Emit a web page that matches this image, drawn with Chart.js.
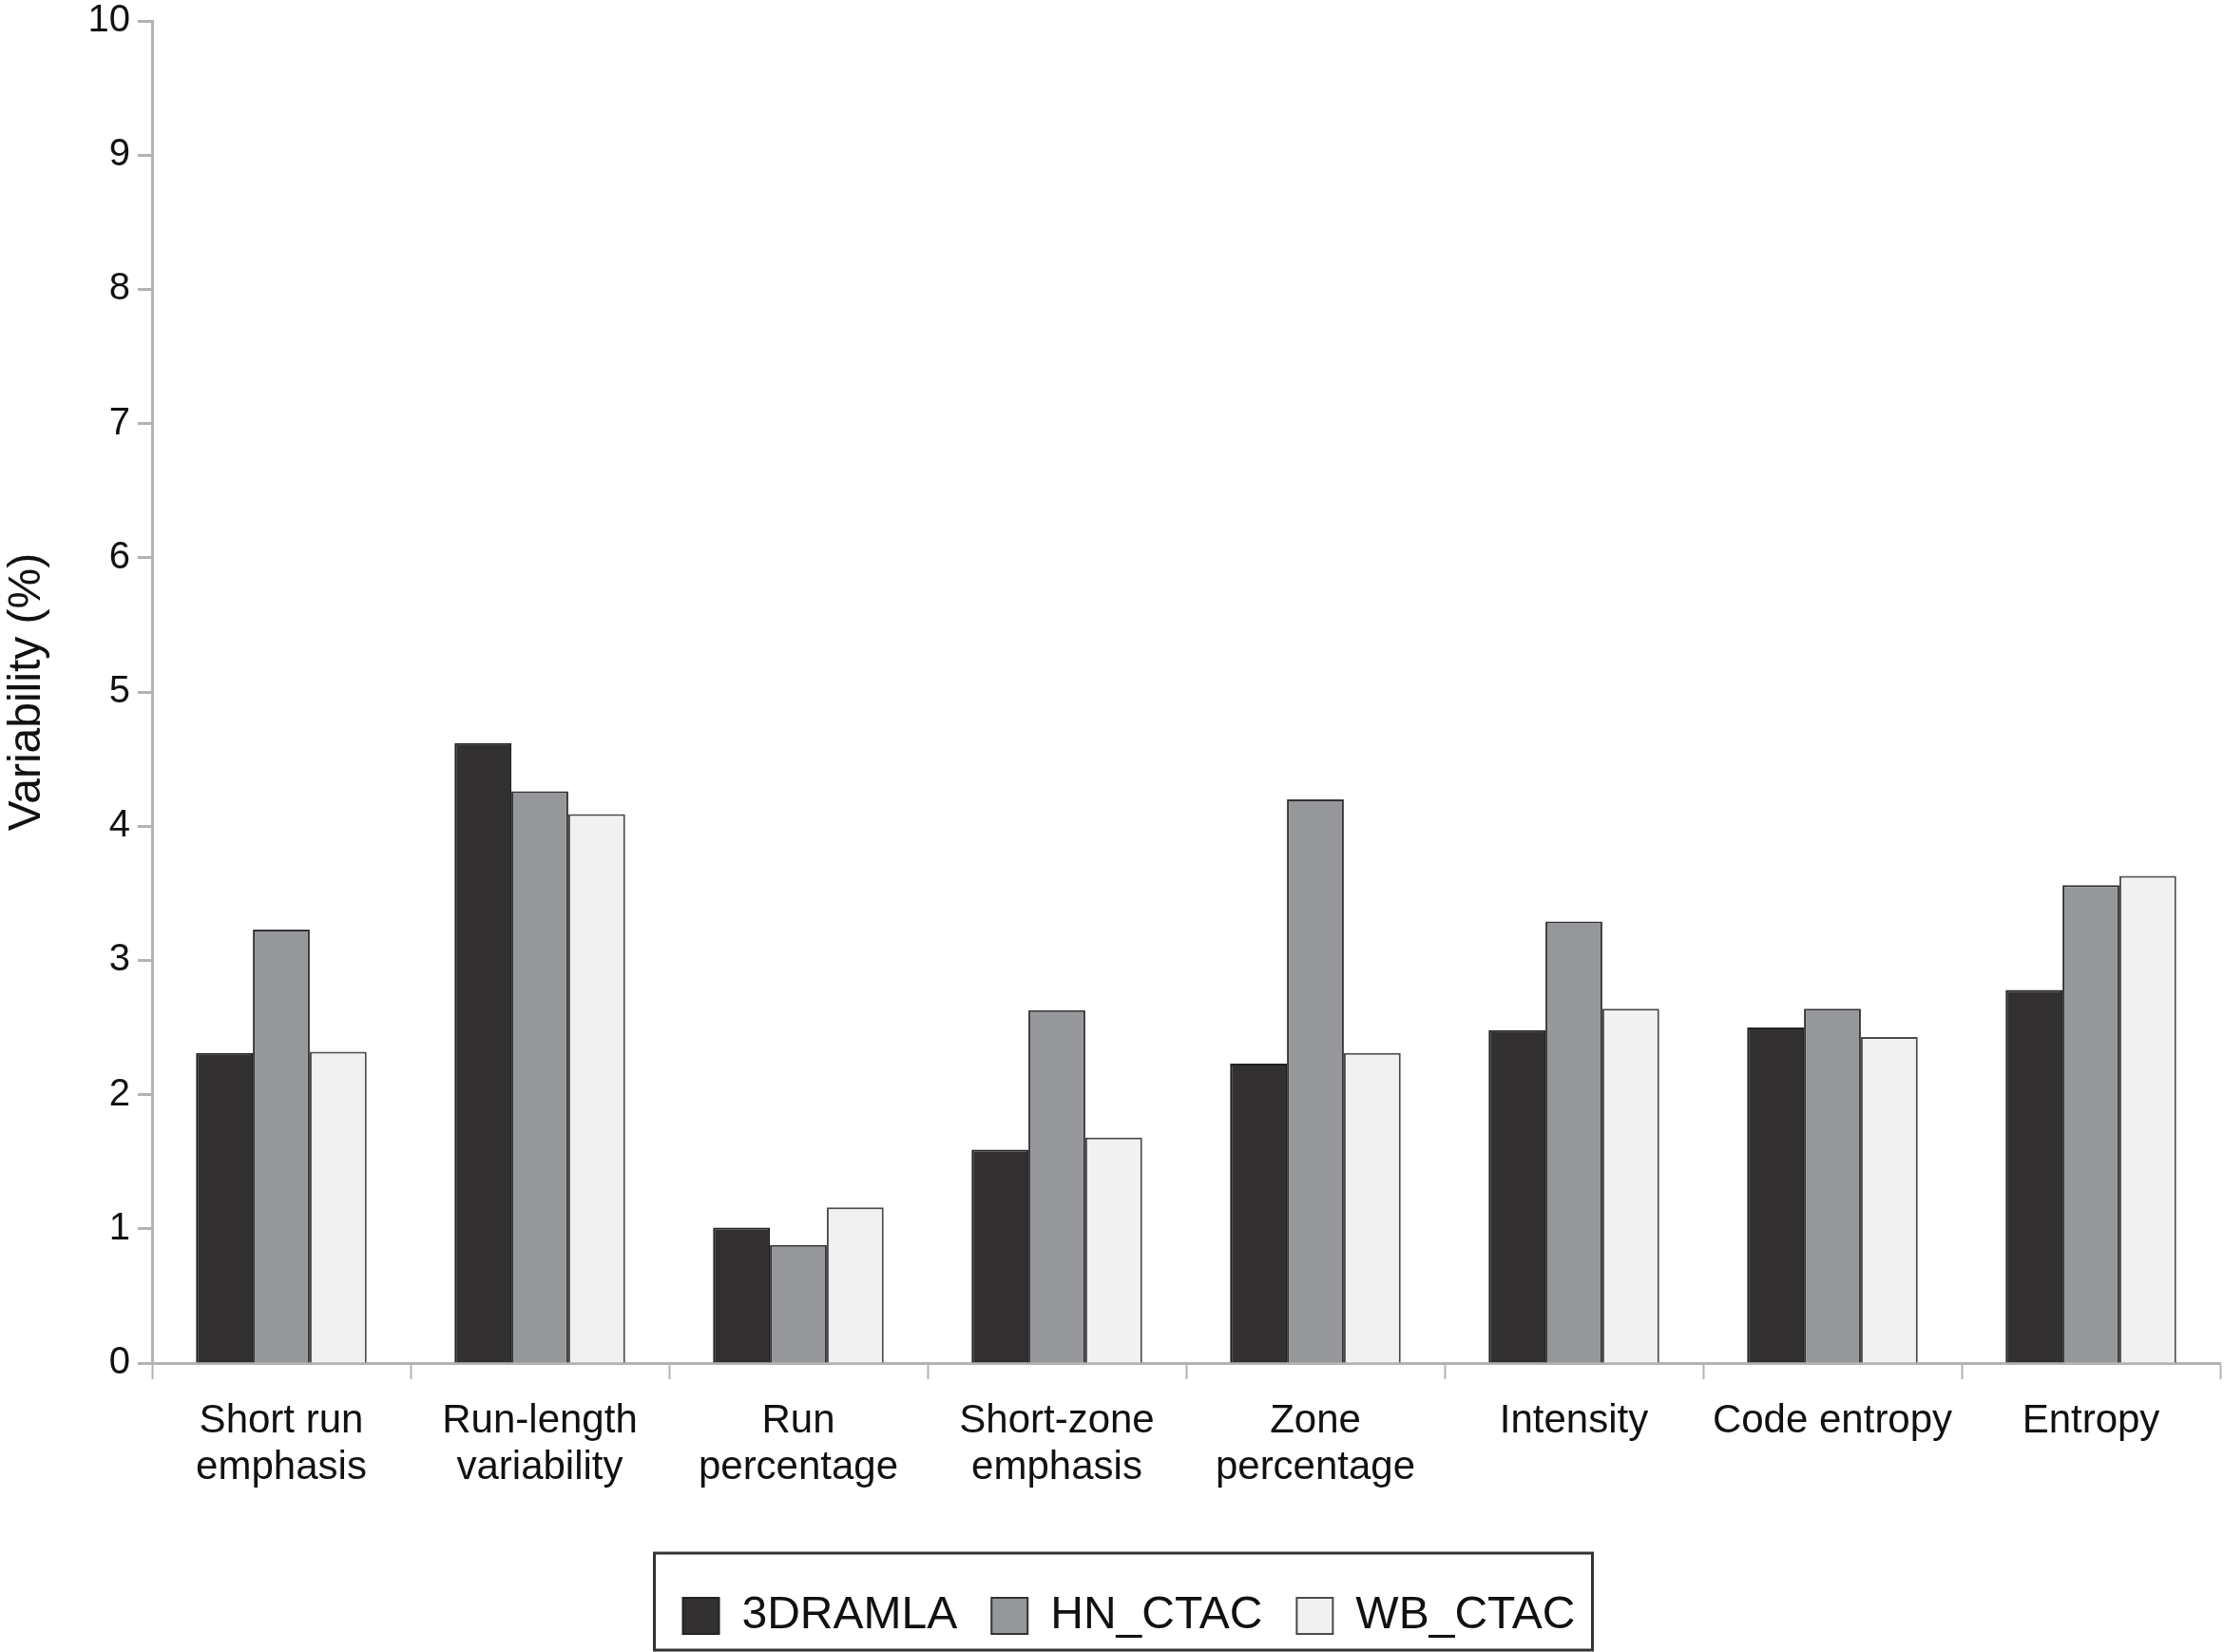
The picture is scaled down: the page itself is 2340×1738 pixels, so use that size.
<!DOCTYPE html>
<html>
<head>
<meta charset="utf-8">
<script src="https://cdn.jsdelivr.net/npm/chart.js@4.4.1/dist/chart.umd.min.js"></script>
<style>
  html, body { margin: 0; padding: 0; background: #fff; }
  #wrap { width: 2340px; height: 1738px; }
</style>
</head>
<body>
<div id="wrap"><canvas id="barChart" width="2340" height="1738"></canvas></div>
<script>
// categories and series values
const categories = [
    ['Short run', 'emphasis'],
    ['Run-length', 'variability'],
    ['Run', 'percentage'],
    ['Short-zone', 'emphasis'],
    ['Zone', 'percentage'],
    'Intensity',
    'Code entropy',
    'Entropy'
];
const seriesNames = ['3DRAMLA', 'HN_CTAC', 'WB_CTAC'];
const dramla = [2.31, 4.62, 1.01, 1.59, 2.23, 2.48, 2.50, 2.78];
const hnCtac = [3.23, 4.26, 0.88, 2.63, 4.20, 3.29, 2.64, 3.56];
const wbCtac = [2.32, 4.09, 1.16, 1.68, 2.31, 2.64, 2.43, 3.63];
const yTicks = [0, 1, 2, 3, 4, 5, 6, 7, 8, 9, 10];

const FONT = "'Liberation Sans', Arial, sans-serif";
const AXIS_GREY = '#b3b3b3';
const LEGEND_SHIFT = 20;

// nudges the legend a little right and frames it
const legendFrame = {
    id: 'legendFrame',
    afterUpdate(chart) {
        const legend = chart.legend;
        if (!legend) return;
        legend.left += LEGEND_SHIFT;
        legend.right += LEGEND_SHIFT;
        legend.legendHitBoxes.forEach(b => { b.left += LEGEND_SHIFT; });
    },
    afterDraw(chart) {
        const boxes = chart.legend && chart.legend.legendHitBoxes;
        if (!boxes || !boxes.length) return;
        const left = Math.min(...boxes.map(b => b.left)) - 30;
        const right = Math.max(...boxes.map(b => b.left + b.width)) + 18;
        const top = Math.min(...boxes.map(b => b.top)) - 42;
        const bottom = Math.min(Math.max(...boxes.map(b => b.top + b.height)) + 26, chart.height - 2);
        const ctx = chart.ctx;
        ctx.save();
        ctx.strokeStyle = '#333';
        ctx.lineWidth = 3;
        ctx.strokeRect(left, top, right - left, bottom - top);
        ctx.restore();
    }
};

new Chart(document.getElementById('barChart').getContext('2d'), {
    type: 'bar',
    data: {
        labels: categories,
        datasets: [
            { label: seriesNames[0], data: dramla, backgroundColor: '#323031', borderColor: '#222', borderWidth: 2 },
            { label: seriesNames[1], data: hnCtac, backgroundColor: '#96979b', borderColor: '#333', borderWidth: 2 },
            { label: seriesNames[2], data: wbCtac, backgroundColor: '#f0f1f0', borderColor: '#4a4a4a', borderWidth: 2 }
        ]
    },
    options: {
        responsive: false,
        devicePixelRatio: 1,
        animation: false,
        layout: { padding: { top: 22, right: 4, bottom: 4, left: 0 } },
        datasets: {
            bar: { categoryPercentage: 0.66, barPercentage: 1.0 }
        },
        plugins: {
            tooltip: { enabled: false },
            legend: {
                position: 'bottom',
                labels: {
                    color: '#111',
                    font: { family: FONT, size: 48 },
                    boxWidth: 38,
                    boxHeight: 38,
                    padding: 36
                }
            }
        },
        scales: {
            x: {
                grid: {
                    display: true,
                    offset: true,
                    drawOnChartArea: false,
                    drawTicks: true,
                    tickLength: 17,
                    tickWidth: 2,
                    color: AXIS_GREY
                },
                border: { display: true, color: AXIS_GREY, width: 3 },
                ticks: {
                    color: '#111',
                    maxRotation: 0,
                    autoSkip: false,
                    padding: 20,
                    font: { family: FONT, size: 42, lineHeight: 1.17 }
                },
                afterFit(scale) { scale.height = 206; }
            },
            y: {
                min: 0,
                max: 10,
                afterBuildTicks(scale) { scale.ticks = yTicks.map(v => ({ value: v })); },
                grid: {
                    display: true,
                    drawOnChartArea: false,
                    drawTicks: true,
                    tickLength: 15,
                    tickWidth: 3,
                    color: AXIS_GREY
                },
                border: { display: true, color: AXIS_GREY, width: 3 },
                ticks: {
                    color: '#111',
                    padding: 8,
                    font: { family: FONT, size: 40 }
                },
                title: {
                    display: true,
                    text: 'Variability (%)',
                    color: '#111',
                    padding: 0,
                    font: { family: FONT, size: 48 }
                },
                afterFit(scale) {
                    scale.width = 160;
                    scale.paddingTop = 0;
                    scale.paddingBottom = 0;
                }
            }
        }
    },
    plugins: [legendFrame]
});
</script>
</body>
</html>
